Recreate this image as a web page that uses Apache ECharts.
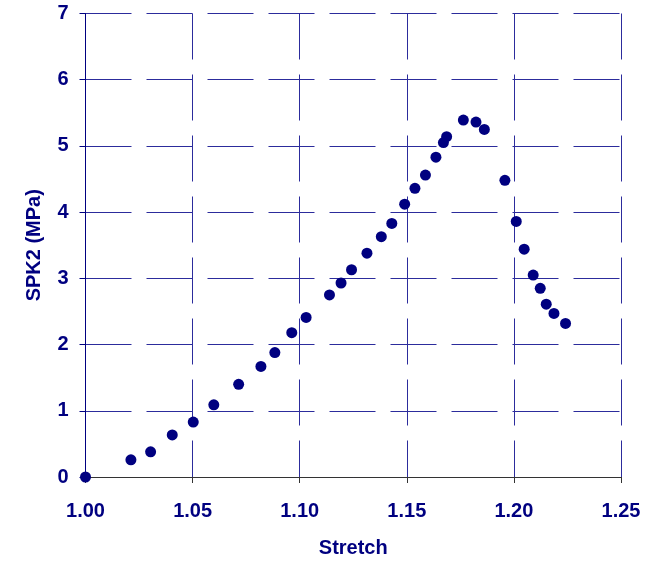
<!DOCTYPE html>
<html>
<head>
<meta charset="utf-8">
<script src="https://cdn.jsdelivr.net/npm/echarts@6/dist/echarts.min.js"></script>
<style>
  html, body { margin: 0; padding: 0; background: #ffffff; }
  #chart { width: 657px; height: 563px; }
</style>
</head>
<body>
<div id="chart"></div>
<script>
// Stretch values (x) and second Piola-Kirchhoff stress SPK2 in MPa (y)
const stretch = [
  1.000, 1.0212, 1.0304, 1.0405, 1.0503, 1.0599, 1.0715, 1.0819, 1.0884,
  1.0963, 1.1030, 1.1139, 1.1193, 1.1242, 1.1314, 1.1381, 1.1430, 1.1490,
  1.1538, 1.1587, 1.1636, 1.1671, 1.1686, 1.1764, 1.1823, 1.1862, 1.1958,
  1.2011, 1.2048, 1.2090, 1.2123, 1.2151, 1.2187, 1.2241
];
const spk2 = [
  0.00, 0.26, 0.38, 0.635, 0.83, 1.09, 1.40, 1.67, 1.88,
  2.18, 2.41, 2.75, 2.93, 3.13, 3.38, 3.63, 3.83, 4.12,
  4.36, 4.56, 4.83, 5.05, 5.14, 5.39, 5.36, 5.25, 4.48,
  3.86, 3.44, 3.05, 2.85, 2.61, 2.47, 2.32
];

// Axis ranges and tick steps
const xMin = 1.00, xMax = 1.25, xStep = 0.05;
const yMin = 0, yMax = 7, yStep = 1;

const navy = '#000080';
const gridColor = '#2c2c9c';
const font = 'Liberation Sans, Arial, sans-serif';

const points = stretch.map((s, i) => [s, spk2[i]]);

const chart = echarts.init(document.getElementById('chart'), null, { renderer: 'canvas' });
chart.setOption({
  animation: false,
  backgroundColor: '#ffffff',
  grid: { left: 85.5, right: 36, top: 13.5, bottom: 84, containLabel: false },
  xAxis: {
    type: 'value',
    min: xMin, max: xMax, interval: xStep,
    name: 'Stretch',
    nameLocation: 'middle',
    nameGap: 61,
    nameTextStyle: { color: navy, fontFamily: font, fontWeight: 'bold', fontSize: 20 },
    axisLine: { show: true, onZero: false, lineStyle: { color: '#333333', width: 1 } },
    axisTick: { show: true, inside: false, length: 6, lineStyle: { color: '#333333' } },
    axisLabel: {
      color: navy, fontFamily: font, fontWeight: 'bold', fontSize: 20, margin: 24,
      formatter: v => v.toFixed(2)
    },
    splitLine: { show: true, lineStyle: { color: gridColor, width: 1, type: [46, 15] } }
  },
  yAxis: {
    type: 'value',
    min: yMin, max: yMax, interval: yStep,
    name: 'SPK2 (MPa)',
    nameLocation: 'middle',
    nameGap: 41,
    nameTextStyle: { color: navy, fontFamily: font, fontWeight: 'bold', fontSize: 20 },
    axisLine: { show: true, lineStyle: { color: navy, width: 1 } },
    axisTick: { show: true, inside: false, length: 6, lineStyle: { color: navy } },
    axisLabel: {
      color: navy, fontFamily: font, fontWeight: 'bold', fontSize: 20, margin: 17
    },
    splitLine: { show: true, lineStyle: { color: gridColor, width: 1, type: [46, 15] } }
  },
  series: [{
    type: 'scatter',
    data: points,
    symbol: 'circle',
    symbolSize: 11,
    itemStyle: { color: navy, opacity: 1 },
    emphasis: { disabled: true }
  }]
});
</script>
</body>
</html>
